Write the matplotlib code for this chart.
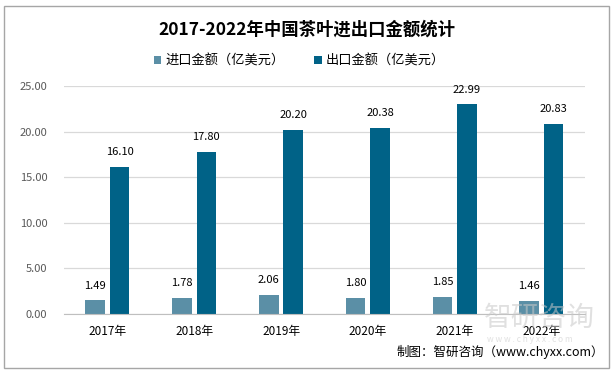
import numpy as np
import matplotlib.pyplot as plt
from matplotlib.patches import Rectangle

plt.rcParams['font.family'] = ['Noto Sans CJK SC', 'DejaVu Sans']

# ---------------------------------
# Data
# ---------------------------------
years = ["2017年", "2018年", "2019年", "2020年", "2021年", "2022年"]
imports = [1.49, 1.78, 2.06, 1.80, 1.85, 1.46]
exports = [16.10, 17.80, 20.20, 20.38, 22.99, 20.83]
yticks = [0, 5, 10, 15, 20, 25]

c_imp = "#5b8fa6"
c_exp = "#006287"

fig = plt.figure(figsize=(6.13, 3.72), dpi=100)
fig.add_artist(Rectangle((4 / 613, 4 / 372), 605 / 613, 362 / 372, transform=fig.transFigure,
                         fill=False, edgecolor="#a6a6a6", linewidth=1))

ax = fig.add_axes([64 / 613, 1 - 314 / 372, 521 / 613, 228 / 372])
x = np.arange(len(years))
w = 0.225
b1 = ax.bar(x - 0.142, imports, w, color=c_imp, label="进口金额（亿美元）")
b2 = ax.bar(x + 0.139, exports, w, color=c_exp, label="出口金额（亿美元）")

for bars, vals in ((b1, imports), (b2, exports)):
    for r, v in zip(bars, vals):
        ax.annotate(f"{v:.2f}", (r.get_x() + r.get_width() / 2, v), xytext=(0, 7),
                    textcoords="offset points", ha="center", va="bottom", fontsize=8, color="#000000")

ax.set_xlim(-0.5, len(years) - 0.5)
ax.set_ylim(0, 25)
ax.set_yticks(yticks)
ax.set_yticklabels([f"{t:.2f}" for t in yticks], color="#595959", fontsize=8)
ax.set_xticks(x)
ax.set_xticklabels(years, fontsize=8.5, color="#000000")
ax.tick_params(axis="both", length=0)
ax.tick_params(axis="y", pad=12)
ax.tick_params(axis="x", pad=8)
ax.grid(axis="y", color="#d9d9d9", linewidth=0.9)
ax.set_axisbelow(True)
for s in ("top", "right", "left"):
    ax.spines[s].set_visible(False)
ax.spines["bottom"].set_color("#bfbfbf")

fig.text(0.5, 1 - 30 / 372, "2017-2022年中国茶叶进出口金额统计", ha="center", va="center",
         fontsize=12.5, fontweight="bold")
fig.legend(handles=[b1, b2], loc="center", bbox_to_anchor=(0.488, 1 - 61 / 372), ncol=2, frameon=False,
           fontsize=9.5, handlelength=0.6, handleheight=0.6, columnspacing=2.2, handletextpad=0.3)

# watermark
fig.text(595 / 613, 1 - 318 / 372, "智研咨询", ha="right", va="center", fontsize=20,
         color="#c8c8c8", alpha=0.55)
fig.text(530 / 613, 1 - 340 / 372, "w w w . c h y x x . c o m", ha="center", va="center", fontsize=6,
         color="#c8c8c8", alpha=0.55)

fig.text(604 / 613, 1 - 352 / 372, "制图：智研咨询（www.chyxx.com）", ha="right", va="center",
         fontsize=9, color="#000000")

fig.savefig("out.png", dpi=100)
